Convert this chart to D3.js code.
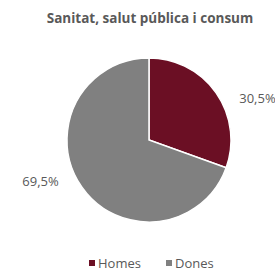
<!DOCTYPE html>
<html>
<head>
<meta charset="utf-8">
<script src="https://cdn.jsdelivr.net/npm/d3@7"></script>
<style>
  body { margin: 0; background: #fff; }
  text { font-family: "Open Sans", sans-serif; }
</style>
</head>
<body>
<div id="chart"></div>
<script>
var categories = ["Homes", "Dones"];
var values = [30.5, 69.5];
var labels = ["30,5%", "69,5%"];
var colors = ["#6b0f24", "#808080"];

var svg = d3.select("#chart").append("svg")
    .attr("width", 275)
    .attr("height", 275);

svg.append("text")
    .attr("x", 150)
    .attr("y", 23)
    .attr("text-anchor", "middle")
    .style("font-size", "13.5px")
    .style("font-weight", "bold")
    .attr("fill", "#595959")
    .text("Sanitat, salut pública i consum");

var radius = 82;
var pieGroup = svg.append("g")
    .attr("transform", "translate(149, 140)");

var pie = d3.pie().sort(null).value(function(d) { return d; });
var arc = d3.arc().innerRadius(0).outerRadius(radius);

var arcs = pie(values);

pieGroup.selectAll("path")
    .data(arcs)
    .enter().append("path")
    .attr("d", arc)
    .attr("fill", function(d, i) { return colors[i]; })
    .attr("stroke", "#fff")
    .attr("stroke-width", 1.5);

// labels sit outside, a bit clockwise of the slice middle
function labelPos(d) {
    var a = (d.startAngle + d.endAngle) / 2 + 0.25;
    return d3.pointRadial(a, radius + 34);
}

pieGroup.selectAll("text.lbl")
    .data(arcs)
    .enter().append("text")
    .attr("class", "lbl")
    .attr("transform", function(d) { return "translate(" + labelPos(d) + ")"; })
    .attr("text-anchor", "middle")
    .attr("dy", "0.35em")
    .style("font-size", "13px")
    .attr("fill", "#595959")
    .text(function(d, i) { return labels[i]; });

// legend
var legendX = d3.scaleOrdinal().domain(categories).range([89, 166]);
var legend = svg.append("g").attr("class", "legend");
categories.forEach(function(c, i) {
    legend.append("rect")
        .attr("x", legendX(c))
        .attr("y", 260)
        .attr("width", 6)
        .attr("height", 6)
        .attr("fill", colors[i]);
    legend.append("text")
        .attr("x", legendX(c) + 9)
        .attr("y", 268)
        .style("font-size", "13px")
        .attr("fill", "#595959")
        .text(c);
});
</script>
</body>
</html>
